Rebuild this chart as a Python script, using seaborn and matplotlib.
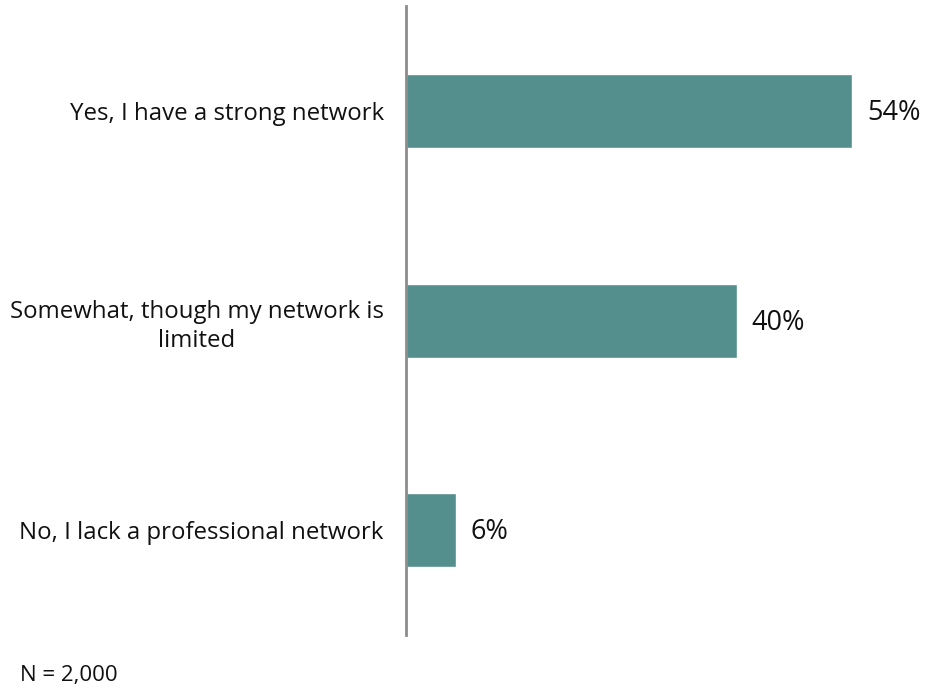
import matplotlib
matplotlib.use("Agg")
import matplotlib.pyplot as plt
import seaborn as sns
import pandas as pd

categories = [
    "Yes, I have a strong network",
    "Somewhat, though my network is\nlimited",
    "No, I lack a professional network",
]
values = [54, 40, 6]
value_labels = ["54%", "40%", "6%"]
footnote = "N = 2,000"

sns.set_theme(style="white")
plt.rcParams["font.family"] = ["Open Sans", "DejaVu Sans"]

df = pd.DataFrame({"category": categories, "value": values})

fig = plt.figure(figsize=(9.27, 6.95), dpi=100)
ax = fig.add_axes([0.438, 0.0863, 0.535, 0.905])

sns.barplot(data=df, x="value", y="category", color="#548F8D", saturation=1,
            width=0.353, ax=ax)

ax.set_xlim(0, 60)
ax.set_ylim(2.5, -0.5)
ax.set_xlabel("")
ax.set_ylabel("")
ax.set_xticks([])

for s in ["top", "right", "bottom"]:
    ax.spines[s].set_visible(False)
ax.spines["left"].set_color("#8c8c8c")
ax.spines["left"].set_linewidth(2)

ax.tick_params(axis="y", length=0, pad=16, labelsize=17.3, labelcolor="#111111")
for lbl in ax.get_yticklabels():
    lbl.set_multialignment("center")
    lbl.set_linespacing(1.3)

for bar, txt in zip(ax.patches, value_labels):
    ax.annotate(txt, (bar.get_width(), bar.get_y() + bar.get_height() / 2),
                xytext=(15, -2), textcoords="offset pixels",
                va="center", ha="left", fontsize=19.5, color="#111111")

fig.text(20 / 927, 1 - 681 / 695, footnote, fontsize=16, color="#111111",
         ha="left", va="baseline")

fig.savefig("out.png", dpi=100)
